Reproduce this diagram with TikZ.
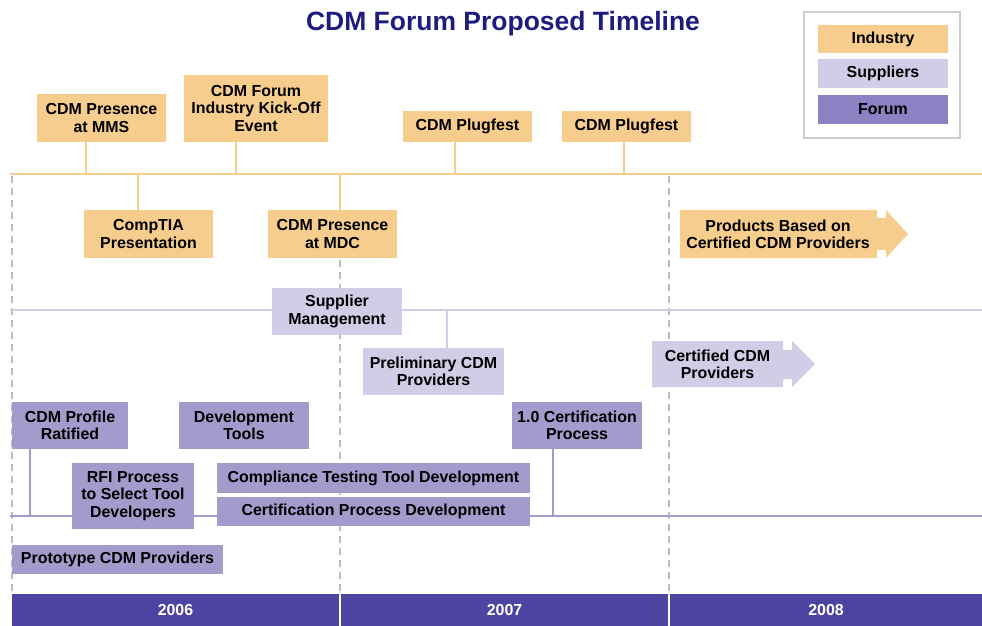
\documentclass[tikz,border=0pt]{standalone}
\usepackage{fontspec}
\setmainfont{Liberation Sans}
\usetikzlibrary{calc}

\definecolor{indcol}{HTML}{F7CD8E}
\definecolor{supcol}{HTML}{D0CDE6}
\definecolor{forcol}{HTML}{A39BCC}
\definecolor{legforcol}{HTML}{8A82C2}
\definecolor{yearcol}{HTML}{4E43A0}
\definecolor{titlecol}{HTML}{1F1C80}
\definecolor{dashcol}{HTML}{BDBDBD}

\begin{document}
\begin{tikzpicture}[x=0.3mm, y=-0.3mm,
  box/.style 2 args={rectangle, inner sep=0pt, align=center, minimum width=#1*0.3mm, minimum height=#2*0.3mm, font=\fontsize{13.6}{14.8}\selectfont\bfseries},
  ind/.style={fill=indcol},
  sup/.style={fill=supcol},
  forum/.style={fill=forcol},
  indline/.style={draw=indcol, line width=0.85mm},
  supline/.style={draw=supcol, line width=0.85mm},
  forline/.style={draw=forcol, line width=0.85mm},
  yearline/.style={dashcol, line width=0.8mm, dash pattern=on 2mm off 1.6mm}]
\useasboundingbox (0,0) rectangle (982,626);

%title
\node[font=\fontsize{22.6}{26}\selectfont\bfseries, text=titlecol] (title) at (503,24) {CDM Forum Proposed Timeline};

%legend
\draw[gray!40, line width=0.6mm] (804,12) rectangle (960,138);
\node[box={130}{28}, ind] (legind) at (883,39) {Industry};
\node[box={130}{29}, sup] (legsup) at (883,73.5) {Suppliers};
\node[box={130}{29}, fill=legforcol] (legfor) at (883,109.5) {Forum};

%year separators
\coordinate (sepA) at (12,176);
\coordinate (sepB) at (340,176);
\coordinate (sepC) at (669,176);
\draw[yearline] (sepA) -- (sepA |- 0,594);
\draw[yearline] (sepB) -- (sepB |- 0,594);
\draw[yearline] (sepC) -- (sepC |- 0,594);

%timelines
\coordinate (indL) at (10,174);
\coordinate (indR) at (982,174);
\coordinate (supL) at (10,310);
\coordinate (supR) at (982,310);
\coordinate (forL) at (10,516);
\coordinate (forR) at (982,516);
\draw[indline] (indL) -- (indR);
\draw[supline] (supL) -- (supR);
\draw[forline] (forL) -- (forR);

%industry
\node[box={129}{48}, ind] (mms) at (101.5,118) {CDM Presence\\at MMS};
\node[box={144}{67}, ind] (kick) at (256,108.5) {CDM Forum\\Industry Kick-Off\\Event};
\node[box={129}{31}, ind] (plugA) at (467.5,126.5) {CDM Plugfest};
\node[box={129}{31}, ind] (plugB) at (626.5,126.5) {CDM Plugfest};
\node[box={129}{48}, ind] (comptia) at (148.5,234) {CompTIA\\Presentation};
\node[box={129}{48}, ind] (mdc) at (332.5,234) {CDM Presence\\at MDC};

\coordinate (mmsT) at (86,174);
\coordinate (kickT) at (236,174);
\coordinate (plugAT) at (455,174);
\coordinate (plugBT) at (624,174);
\coordinate (comptiaT) at (138,174);
\coordinate (mdcT) at (340,174);
\draw[indline] (mms.south -| mmsT) -- (mmsT);
\draw[indline] (kick.south -| kickT) -- (kickT);
\draw[indline] (plugA.south -| plugAT) -- (plugAT);
\draw[indline] (plugB.south -| plugBT) -- (plugBT);
\draw[indline] (comptia.north -| comptiaT) -- (comptiaT);
\draw[indline] (mdc.north -| mdcT) -- (mdcT);

\fill[indcol] (680,210) -- (877,210) -- (877,218) -- (886,218) -- (886,210) -- (908,234)
  -- (886,258) -- (886,250) -- (877,250) -- (877,258) -- (680,258) -- cycle;
\node[box={196}{48}] (products) at (778,234) {Products Based on\\Certified CDM Providers};

%suppliers
\node[box={130}{47}, sup] (supman) at (337,311.5) {Supplier\\Management};
\node[box={141}{47}, sup] (prelim) at (433.5,371.5) {Preliminary CDM\\Providers};
\coordinate (prelimT) at (447,310);
\draw[supline] (prelim.north -| prelimT) -- (prelimT);

\fill[supcol] (652,341) -- (783,341) -- (783,350) -- (792,350) -- (792,341) -- (815,364)
  -- (792,387) -- (792,379) -- (783,379) -- (783,387) -- (652,387) -- cycle;
\node[box={131}{46}] (certprov) at (717.5,364) {Certified CDM\\Providers};

%forum
\node[box={116}{47}, forum] (profile) at (70,425.5) {CDM Profile\\Ratified};
\node[box={130}{47}, forum] (devtools) at (244,425.5) {Development\\Tools};
\node[box={130}{47}, forum] (certproc) at (577,425.5) {1.0 Certification\\Process};
\node[box={122}{66}, forum] (rfi) at (133,496) {RFI Process\\to Select Tool\\Developers};
\node[box={313}{30}, forum] (comptest) at (373.5,478) {Compliance Testing Tool Development};
\node[box={313}{29}, forum] (certdev) at (373.5,511.5) {Certification Process Development};
\node[box={211}{29}, forum] (proto) at (117.5,559.5) {Prototype CDM Providers};

\coordinate (profileT) at (30,516);
\coordinate (certprocT) at (553,516);
\draw[forline] (profile.south -| profileT) -- (profileT);
\draw[forline] (certproc.south -| certprocT) -- (certprocT);

%years
\node[box={327}{32}, fill=yearcol, text=white] (yA) at (175.5,610) {2006};
\node[box={327}{32}, fill=yearcol, text=white] (yB) at (504.5,610) {2007};
\node[box={312}{32}, fill=yearcol, text=white] (yC) at (826,610) {2008};

\end{tikzpicture}
\end{document}
